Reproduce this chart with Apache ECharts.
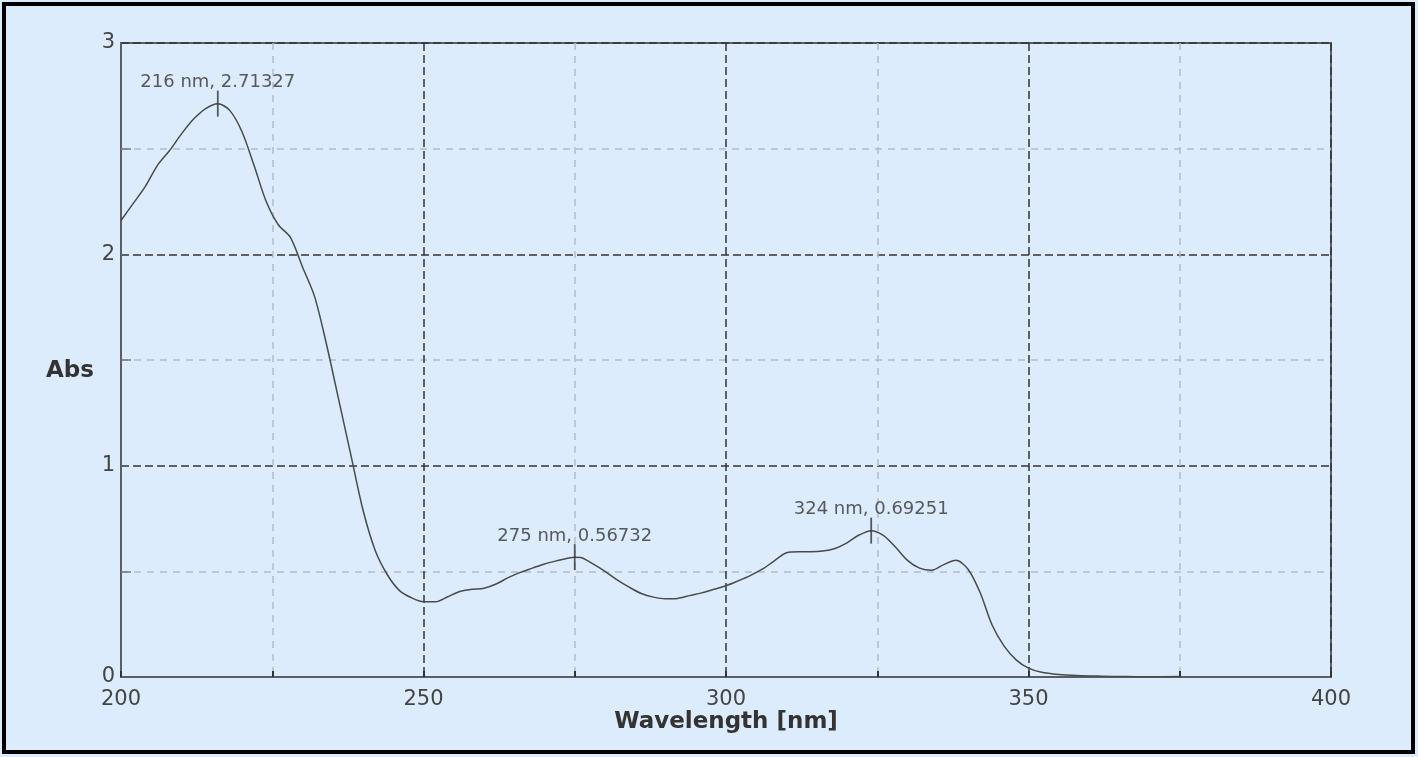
<!DOCTYPE html>
<html>
<head>
<meta charset="utf-8">
<script src="https://cdn.jsdelivr.net/npm/echarts@6/dist/echarts.min.js"></script>
<style>
  html, body { margin: 0; padding: 0; width: 1418px; height: 757px; background: #dcecfc; overflow: hidden; }
  #chart { position: absolute; left: 0; top: 0; width: 1418px; height: 757px; }
  #frame { position: absolute; left: 2px; top: 2px; width: 1413px; height: 752px; box-sizing: border-box; border: 4px solid #000; pointer-events: none; z-index: 5; }
</style>
</head>
<body>
<div id="chart"></div>
<div id="frame"></div>
<script>
// Wavelength (nm)
const wavelengths = [200,202,204,206,208,210,212,214,216,218,220,222,224,226,228,230,232,234,236,238,240,242,244,246,248,250,252,254,256,258,260,262,264,266,268,270,272,274,275,276,278,280,282,284,286,288,290,292,294,296,298,300,302,304,306,308,310,312,314,316,318,320,322,324,326,328,330,332,334,336,338,340,342,344,346,348,350,352,355,358,362,366,370,375];
// Absorbance
const absorbance = [2.16,2.24,2.32,2.42,2.49,2.57,2.64,2.69,2.713,2.68,2.58,2.42,2.25,2.14,2.08,1.94,1.80,1.57,1.31,1.05,0.79,0.60,0.485,0.41,0.375,0.356,0.356,0.38,0.405,0.415,0.42,0.44,0.47,0.495,0.515,0.535,0.55,0.563,0.567,0.565,0.535,0.50,0.46,0.425,0.395,0.378,0.37,0.372,0.385,0.398,0.415,0.432,0.455,0.48,0.51,0.55,0.588,0.593,0.593,0.596,0.608,0.635,0.672,0.6925,0.67,0.615,0.552,0.515,0.505,0.532,0.552,0.51,0.40,0.245,0.145,0.08,0.042,0.024,0.012,0.007,0.004,0.002,0.001,0.002];
// Peak annotations
const peakWavelengths = [216, 275, 324];
const peakValues = [2.71327, 0.56732, 0.69251];
const peakLabels = ['216 nm, 2.71327', '275 nm, 0.56732', '324 nm, 0.69251'];
// Axis text
const xAxisName = 'Wavelength [nm]';
const yAxisName = 'Abs';

const lineData = wavelengths.map((w, i) => [w, absorbance[i]]);
const peakData = peakWavelengths.map((w, i) => ({ value: [w, peakValues[i]], label: { formatter: peakLabels[i] } }));

const FONT = '"DejaVu Sans", Verdana, sans-serif';
const chart = echarts.init(document.getElementById('chart'), null, { renderer: 'canvas' });
chart.setOption({
  backgroundColor: '#dcecfc',
  animation: false,
  grid: { left: 121, top: 43, right: 87, bottom: 80, show: true, borderColor: '#5a5f66', borderWidth: 2, backgroundColor: 'transparent' },
  xAxis: {
    type: 'value', min: 200, max: 400, interval: 50,
    name: xAxisName, nameLocation: 'middle', nameGap: 34, nameMoveOverlap: false,
    nameTextStyle: { fontFamily: FONT, fontSize: 23, fontWeight: 'bold', color: '#333' },
    axisLine: { show: true, lineStyle: { color: '#5a5f66', width: 2 } },
    axisTick: { show: true, inside: true, length: 6, lineStyle: { color: '#333', width: 2 } },
    minorTick: { show: true, splitNumber: 2, length: 6, lineStyle: { color: '#333', width: 2 } },
    axisLabel: { fontFamily: FONT, fontSize: 21, color: '#444', margin: 12 },
    splitLine: { show: true, lineStyle: { color: '#333', width: 1.5, type: [8, 4] } },
    minorSplitLine: { show: true, lineStyle: { color: '#b4bcc8', width: 1.5, type: [7, 6] } }
  },
  yAxis: {
    type: 'value', min: 0, max: 3, interval: 1,
    name: yAxisName, nameLocation: 'middle', nameGap: 51, nameRotate: 0, nameMoveOverlap: false,
    nameTextStyle: { fontFamily: FONT, fontSize: 23, fontWeight: 'bold', color: '#333', align: 'center', verticalAlign: 'top', lineHeight: 22 },
    axisLine: { show: true, lineStyle: { color: '#5a5f66', width: 2 } },
    axisTick: { show: false, inside: true },
    minorTick: { show: true, splitNumber: 2, length: 10, lineStyle: { color: '#777', width: 1.5 } },
    axisLabel: { fontFamily: FONT, fontSize: 21, color: '#444', margin: 6 },
    splitLine: { show: true, lineStyle: { color: '#333', width: 1.5, type: [8, 4] } },
    minorSplitLine: { show: true, lineStyle: { color: '#b4bcc8', width: 1.5, type: [7, 6] } }
  },
  series: [
    {
      type: 'line', data: lineData, showSymbol: false, smooth: 0.3,
      lineStyle: { color: '#4a4a4a', width: 1.5 }, z: 3
    },
    {
      type: 'scatter', data: peakData, symbol: 'rect', symbolSize: [1.8, 26],
      itemStyle: { color: '#333' }, z: 4,
      label: { show: true, position: 'top', distance: -1, fontFamily: FONT, fontSize: 18, color: '#333' }
    }
  ]
});
</script>
</body>
</html>
